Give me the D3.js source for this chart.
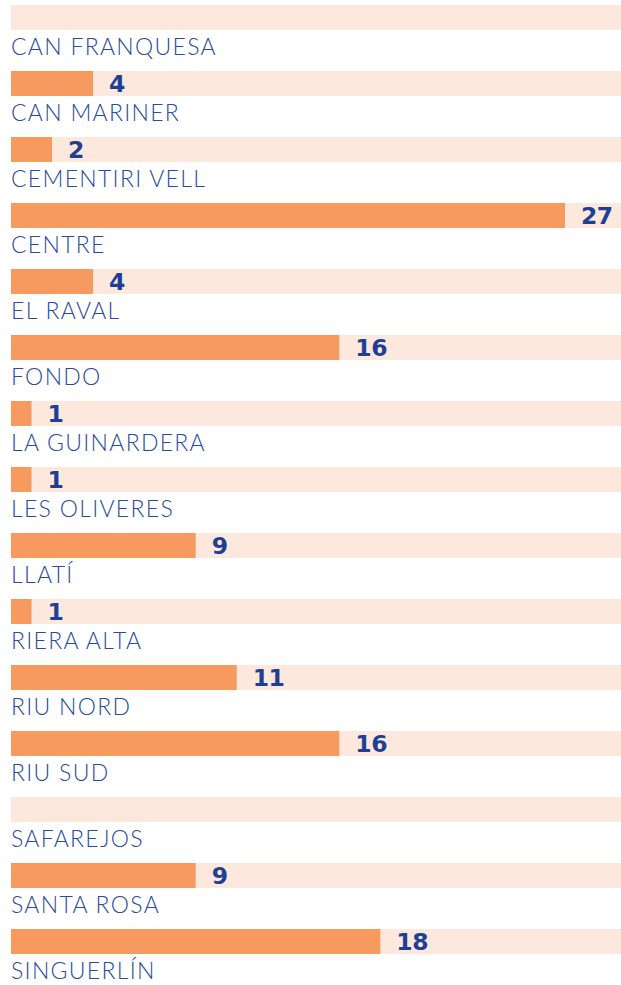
<!DOCTYPE html>
<html>
<head>
<meta charset="utf-8">
<script src="https://cdn.jsdelivr.net/npm/d3@7"></script>
<style>
html,body{margin:0;padding:0;background:#fff;}
svg{display:block;}
</style>
</head>
<body>
<svg id="chart" width="621" height="985"></svg>
<script>
const categories = ["CAN FRANQUESA","CAN MARINER","CEMENTIRI VELL","CENTRE","EL RAVAL","FONDO","LA GUINARDERA","LES OLIVERES","LLATÍ","RIERA ALTA","RIU NORD","RIU SUD","SAFAREJOS","SANTA ROSA","SINGUERLÍN"];
const values = [0,4,2,27,4,16,1,1,9,1,11,16,0,9,18];

const svg = d3.select("#chart");
const W = 621;
const left = 11;
const barH = 25;

const y = d3.scaleBand().domain(categories).range([5, 5 + categories.length * 66]).padding(0);
const x = d3.scaleLinear().domain([0, 27]).range([left, 565]);

const rows = svg.selectAll("g.row").data(categories.map((c,i)=>({c, v: values[i]})))
  .join("g").attr("class","row")
  .attr("transform", d => `translate(0,${y(d.c)})`);

rows.append("rect")
  .attr("x", left).attr("y", 0)
  .attr("width", W - left).attr("height", barH)
  .attr("fill", "#fce8dd");

rows.append("rect")
  .attr("x", left).attr("y", 0)
  .attr("width", d => x(d.v) - x(0)).attr("height", barH)
  .attr("fill", "#f79a5f");

rows.filter(d => d.v > 0).append("text")
  .attr("x", d => x(d.v) + 16)
  .attr("y", 21)
  .attr("font-family", "'DejaVu Sans', sans-serif")
  .attr("font-weight", 700)
  .attr("font-size", 23.5)
  .attr("letter-spacing", -0.5)
  .attr("fill", "#1f3f94")
  .text(d => d.v);

rows.append("text")
  .attr("x", left)
  .attr("y", 50)
  .attr("font-family", "Lato, 'DejaVu Sans', sans-serif")
  .attr("font-weight", 300)
  .attr("font-size", 23)
  .attr("letter-spacing", 1.3)
  .attr("fill", "#294b9c")
  .text(d => d.c);
</script>
</body>
</html>
